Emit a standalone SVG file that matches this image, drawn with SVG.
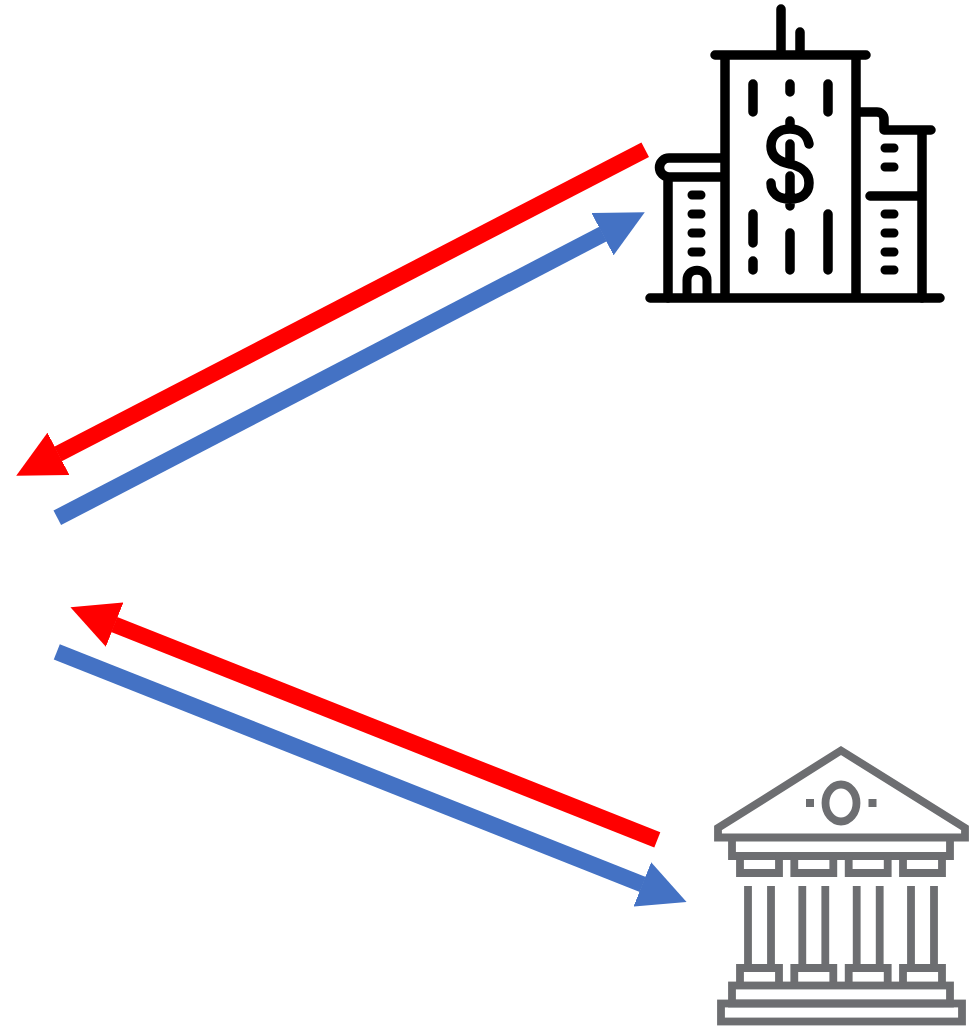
<svg xmlns="http://www.w3.org/2000/svg" width="973" height="1029" viewBox="0 0 973 1029">
<style>
.k{fill:none;stroke:#000;stroke-width:9.500;stroke-linecap:round;stroke-linejoin:round}
.w{stroke-width:9}
.g{fill:none;stroke:#6d6e71;stroke-width:7.800;stroke-linejoin:miter}
.s{fill:#6d6e71}
.c{fill:none;stroke-width:16.400;stroke-linecap:butt}
.r{stroke:#f00;marker-end:url(#hr)}
.b{stroke:#4472c4;marker-end:url(#hb)}
</style>
<defs>
<marker id="hr" viewBox="0 0 3 3" refX="0.03" refY="1.500" markerWidth="2.900" markerHeight="2.900" orient="auto" markerUnits="strokeWidth"><path d="M0 0L3 1.500L0 3Z" fill="#f00"/></marker>
<marker id="hb" viewBox="0 0 3 3" refX="0.03" refY="1.500" markerWidth="2.900" markerHeight="2.900" orient="auto" markerUnits="strokeWidth"><path d="M0 0L3 1.500L0 3Z" fill="#4472c4"/></marker>
</defs>
<rect width="973" height="1029" fill="#fff"/>
<g id="connectors">
<line class="c r" x1="645.200" y1="149.700" x2="58" y2="454"/>
<line class="c b" x1="57.300" y1="517.800" x2="603" y2="234"/>
<line class="c r" x1="657.300" y1="839.800" x2="114.200" y2="624.500"/>
<line class="c b" x1="56.800" y1="651.800" x2="642.800" y2="884.500"/>
</g>
<g id="corporate-building">
<path class="k" d="M781 9V55M800 32V55M715 55H866M725 55V298M856 55V298M650 298H940"/>
<path class="k" d="M753 84V112M790 84V92M828 84V112M753 214V243M753 261V270M790 233V270M828 214V270"/>
<path class="k" d="M809 144C807 134 800 129 790 129C778 129 771 136 771 146C771 157 780 162 790 164C802 167 809 172 809 183C809 193 802 199 790 199C778 199 771 193 771 183M790 121V128M790 144V163M790 176V206"/>
<path class="k" d="M722 158H669A9.500 9.500 0 0 0 669 177H722M668 177V298"/>
<path class="k w" d="M692 195H701M692 214H701M692 233H701M692 252H701M687 296V280C687 267 707 267 707 280V296"/>
<path class="k" d="M859 112H877C881 112 884 115 884 119V130H931M922 130V298M870 196H922"/>
<path class="k w" d="M885 148H894M885 167H894M885 214H894M885 233H894M885 252H894M885 270H894"/>
</g>
<g id="bank">
<path class="g" d="M841 750.500L718 828V837.500H965V828Z"/>
<ellipse class="g" cx="841" cy="803" rx="15.500" ry="18.500"/>
<rect class="s" x="806" y="799" width="8" height="8"/>
<rect class="s" x="868.500" y="799" width="8" height="8"/>
<path class="g" d="M732 838V856H950V838"/>
<path class="g" d="M740 856V873H779V856M794.300 856V873H833.300V856M848.700 856V873H887.700V856M903 856V873H942V856"/>
<path class="g" d="M748 886V965M771 886V965M802.300 886V965M825.300 886V965M856.700 886V965M879.700 886V965M911 886V965M934 886V965"/>
<path class="g" d="M740 985V968H779V985M794.300 985V968H833.300V985M848.700 985V968H887.700V985M903 985V968H942V985"/>
<rect class="g" x="732" y="985.500" width="218" height="18"/>
<rect class="g" x="721" y="1003.500" width="241" height="18"/>
</g>
</svg>
